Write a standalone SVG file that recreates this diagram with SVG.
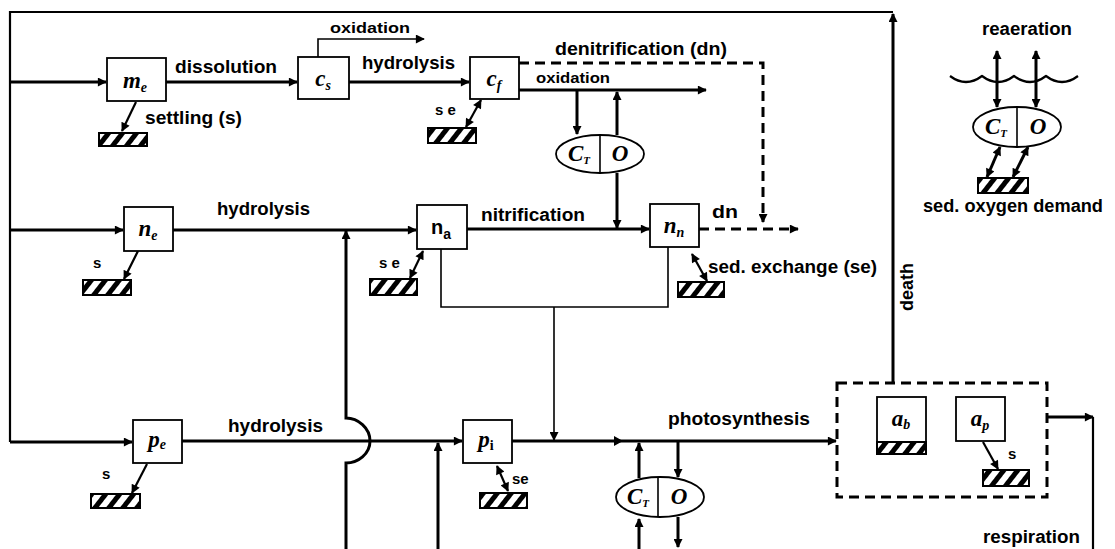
<svg xmlns="http://www.w3.org/2000/svg" width="1115" height="549" viewBox="0 0 1115 549">
<style>
.bg{fill:#fff}
.ln{fill:none;stroke:#000;stroke-width:3}
.th{fill:none;stroke:#000;stroke-width:1.6}
.md{fill:none;stroke:#000;stroke-width:2.2}
.ds{fill:none;stroke:#000;stroke-width:3;stroke-dasharray:10 6}
.box{fill:#fff;stroke:#000;stroke-width:1.8}
.hat{fill:url(#hatch);stroke:#000;stroke-width:2}
.lbl{font-family:"Liberation Sans",Arial,sans-serif;font-weight:bold;font-size:18px;fill:#000}
.sm{font-family:"Liberation Sans",Arial,sans-serif;font-weight:bold;font-size:15px;fill:#000}
.var{font-family:"Liberation Serif","Times New Roman",serif;font-style:italic;font-weight:bold;font-size:23px;fill:#000}
.sub{font-size:14px}
</style>
<defs>
<marker id="ah" viewBox="0 0 10 10" refX="9" refY="5" markerWidth="10" markerHeight="9" markerUnits="userSpaceOnUse" orient="auto-start-reverse"><path d="M0,0 L10,5 L0,10 z" fill="#000"/></marker>
<pattern id="hatch" patternUnits="userSpaceOnUse" width="11" height="11" patternTransform="rotate(38)"><rect width="11" height="11" fill="#fff"/><rect width="5" height="11" fill="#000"/></pattern>
</defs>
<rect class="bg" width="1115" height="549"/>

<g id="connectors">
  <path class="ln" d="M893,383 V14" marker-end="url(#ah)"/>
  <path class="md" d="M893,12 H10 V442"/>
  <path class="ln" d="M10,82 H106" marker-end="url(#ah)"/>
  <path class="ln" d="M10,230 H123" marker-end="url(#ah)"/>
  <path class="ln" d="M10,442 H132" marker-end="url(#ah)"/>
  <path class="ln" d="M166,82 H297" marker-end="url(#ah)"/>
  <path class="md" d="M136,102 L122,131" marker-end="url(#ah)"/>
  <path class="ln" d="M349,82 H469" marker-end="url(#ah)"/>
  <path class="th" d="M318,57 V39 H424" marker-end="url(#ah)"/>
  <path class="ln" d="M519,90 H706" marker-end="url(#ah)"/>
  <path class="ds" d="M519,63 H763 V222" marker-end="url(#ah)"/>
  <path class="md" d="M481,100 L466,127" marker-start="url(#ah)" marker-end="url(#ah)"/>
  <path class="ln" d="M577,90 V134" marker-end="url(#ah)"/>
  <path class="ln" d="M617,135 V92" marker-end="url(#ah)"/>
  <path class="ln" d="M617,173 V228" marker-end="url(#ah)"/>
  <path class="ln" d="M173,230 H416" marker-end="url(#ah)"/>
  <path class="ln" d="M467,229 H649" marker-end="url(#ah)"/>
  <path class="ds" d="M699,229 H798" marker-end="url(#ah)"/>
  <path class="md" d="M423,251 L410,278" marker-start="url(#ah)" marker-end="url(#ah)"/>
  <path class="md" d="M692,254 L707,281" marker-start="url(#ah)" marker-end="url(#ah)"/>
  <path class="md" d="M138,251 L124,279" marker-end="url(#ah)"/>
  <path class="th" d="M441,249 V307 H668 V247"/>
  <path class="th" d="M554,307 V440" marker-end="url(#ah)"/>
  <path class="ln" d="M346,549 V463 C358,463 370,454 370,441 C370,428 358,418 346,418 V231" marker-end="url(#ah)"/>
  <path class="ln" d="M438,549 V443" marker-end="url(#ah)"/>
  <path class="ln" d="M182,441 H462" marker-end="url(#ah)"/>
  <path class="md" d="M147,464 L132,493" marker-end="url(#ah)"/>
  <path class="md" d="M497,466 L508,491" marker-start="url(#ah)" marker-end="url(#ah)"/>
  <path class="ln" d="M512,441 H836" marker-end="url(#ah)"/>
  <path d="M614,436 L623,441 L614,446 z" fill="#000"/>
  <path class="ln" d="M639,478 V443" marker-end="url(#ah)"/>
  <path class="ln" d="M678,441 V477" marker-end="url(#ah)"/>
  <path class="ln" d="M639,549 V519" marker-end="url(#ah)"/>
  <path class="ln" d="M678,517 V547" marker-end="url(#ah)"/>
  <path class="ln" d="M1047,417 H1093" stroke-width="4" marker-end="url(#ah)"/>
  <path class="md" d="M1093,417 V549"/>
  <path class="md" d="M983,442 L998,469" marker-end="url(#ah)"/>
  <path class="ln" d="M997,51 V107" marker-start="url(#ah)" marker-end="url(#ah)"/>
  <path class="ln" d="M1036,51 V107" marker-start="url(#ah)" marker-end="url(#ah)"/>
  <path class="ln" d="M1000,147 L987,177" marker-start="url(#ah)" marker-end="url(#ah)"/>
  <path class="ln" d="M1028,147 L1013,177" marker-start="url(#ah)" marker-end="url(#ah)"/>
  <path class="md" d="M950,76 q16,12 32,0 q16,12 32,0 q16,12 32,0 q16,12 32,0"/>
</g>

<g id="node-me"><rect class="box" x="107" y="58" width="59" height="43"/><text class="var" x="135" y="88" text-anchor="middle">m<tspan class="sub" dy="4">e</tspan></text></g>
<g id="node-cs"><rect class="box" x="298" y="57" width="51" height="42"/><text class="var" x="323" y="86" text-anchor="middle">c<tspan class="sub" dy="4">s</tspan></text></g>
<g id="node-cf"><rect class="box" x="470" y="57" width="49" height="42"/><text class="var" x="494" y="86" text-anchor="middle">c<tspan class="sub" dy="4">f</tspan></text></g>
<g id="node-ne"><rect class="box" x="124" y="207" width="49" height="44"/><text class="var" x="148" y="236" text-anchor="middle">n<tspan class="sub" dy="4">e</tspan></text></g>
<g id="node-na"><rect class="box" x="417" y="205" width="50" height="44"/><text x="441" y="234" text-anchor="middle" font-family="Liberation Sans, Arial, sans-serif" font-weight="bold" font-size="20">n<tspan font-size="14" dy="5">a</tspan></text></g>
<g id="node-nn"><rect class="box" x="650" y="204" width="49" height="43"/><text class="var" x="674" y="233" text-anchor="middle">n<tspan class="sub" dy="4">n</tspan></text></g>
<g id="node-pe"><rect class="box" x="133" y="420" width="49" height="43"/><text class="var" x="157" y="447" text-anchor="middle">p<tspan class="sub" dy="2">e</tspan></text></g>
<g id="node-pi"><rect class="box" x="463" y="420" width="49" height="43"/><text class="var" x="486" y="447" text-anchor="middle">p<tspan font-style="normal" class="sub" dy="3">i</tspan></text></g>
<g id="node-ab"><rect class="box" x="877" y="397" width="49" height="45"/><rect class="hat" x="877" y="442" width="49" height="12"/><text class="var" x="901" y="426" text-anchor="middle">a<tspan class="sub" dy="3">b</tspan></text></g>
<g id="node-ap"><rect class="box" x="956" y="397" width="49" height="44"/><text class="var" x="980" y="426" text-anchor="middle">a<tspan class="sub" dy="4">p</tspan></text></g>

<g id="node-ox1"><ellipse class="box" cx="600" cy="154" rx="44" ry="19" stroke-width="2.2"/><line x1="600" y1="135" x2="600" y2="173" stroke="#000" stroke-width="1.6"/><text class="var" x="579" y="161" text-anchor="middle" font-size="18">C<tspan font-size="11" dy="3">T</tspan></text><text class="var" x="620" y="161" text-anchor="middle" font-size="17">O</text></g>
<g id="node-ox2"><ellipse class="box" cx="660" cy="497" rx="44" ry="20" stroke-width="2.2"/><line x1="658" y1="477" x2="658" y2="517" stroke="#000" stroke-width="1.6"/><text class="var" x="638" y="504" text-anchor="middle" font-size="18">C<tspan font-size="11" dy="3">T</tspan></text><text class="var" x="679" y="504" text-anchor="middle" font-size="17">O</text></g>
<g id="node-ox3"><ellipse class="box" cx="1017" cy="127" rx="44" ry="20" stroke-width="2.2"/><line x1="1017" y1="107" x2="1017" y2="147" stroke="#000" stroke-width="1.6"/><text class="var" x="996" y="134" text-anchor="middle" font-size="18">C<tspan font-size="11" dy="3">T</tspan></text><text class="var" x="1038" y="134" text-anchor="middle" font-size="17">O</text></g>

<g id="node-algae"><rect class="ds" x="837" y="383" width="210" height="114"/></g>

<g id="sediments">
  <rect class="hat" x="99" y="133" width="48" height="13"/>
  <rect class="hat" x="428" y="128" width="48" height="15"/>
  <rect class="hat" x="83" y="280" width="48" height="15"/>
  <rect class="hat" x="370" y="279" width="47" height="16"/>
  <rect class="hat" x="678" y="282" width="46" height="15"/>
  <rect class="hat" x="91" y="494" width="49" height="14"/>
  <rect class="hat" x="480" y="493" width="47" height="15"/>
  <rect class="hat" x="983" y="470" width="46" height="16"/>
  <rect class="hat" x="978" y="178" width="50" height="15"/>
</g>

<g id="labels">
  <text class="sm" x="330" y="33" textLength="80" lengthAdjust="spacingAndGlyphs">oxidation</text>
  <text class="lbl" x="175" y="73" textLength="102" lengthAdjust="spacingAndGlyphs">dissolution</text>
  <text class="lbl" x="362" y="69" textLength="93" lengthAdjust="spacingAndGlyphs">hydrolysis</text>
  <text class="lbl" x="555" y="55" textLength="172" lengthAdjust="spacingAndGlyphs">denitrification (dn)</text>
  <text class="sm" x="536" y="83" textLength="74" lengthAdjust="spacingAndGlyphs">oxidation</text>
  <text class="lbl" x="145" y="124" textLength="97" lengthAdjust="spacingAndGlyphs">settling (s)</text>
  <text class="sm" x="435" y="115" font-size="16">s e</text>
  <text class="lbl" x="217" y="215" textLength="93" lengthAdjust="spacingAndGlyphs">hydrolysis</text>
  <text class="lbl" x="481" y="221" textLength="104" lengthAdjust="spacingAndGlyphs">nitrification</text>
  <text class="lbl" x="712" y="218" textLength="26" lengthAdjust="spacingAndGlyphs">dn</text>
  <text class="sm" x="93" y="268" font-size="16">s</text>
  <text class="sm" x="379" y="268" font-size="16">s e</text>
  <text class="lbl" x="708" y="273" textLength="169" lengthAdjust="spacingAndGlyphs">sed. exchange (se)</text>
  <text class="lbl" x="982" y="35" textLength="90" lengthAdjust="spacingAndGlyphs">reaeration</text>
  <text class="lbl" x="923" y="212" textLength="180" lengthAdjust="spacingAndGlyphs">sed. oxygen demand</text>
  <text class="lbl" transform="translate(913,287) rotate(-90)" text-anchor="middle">death</text>
  <text class="lbl" x="228" y="432" textLength="95" lengthAdjust="spacingAndGlyphs">hydrolysis</text>
  <text class="sm" x="102" y="479" font-size="16">s</text>
  <text class="sm" x="512" y="484" font-size="16">se</text>
  <text class="lbl" x="668" y="425" textLength="142" lengthAdjust="spacingAndGlyphs">photosynthesis</text>
  <text class="sm" x="1008" y="459" font-size="16">s</text>
  <text class="lbl" x="983" y="543" textLength="97" lengthAdjust="spacingAndGlyphs">respiration</text>
</g>
</svg>
